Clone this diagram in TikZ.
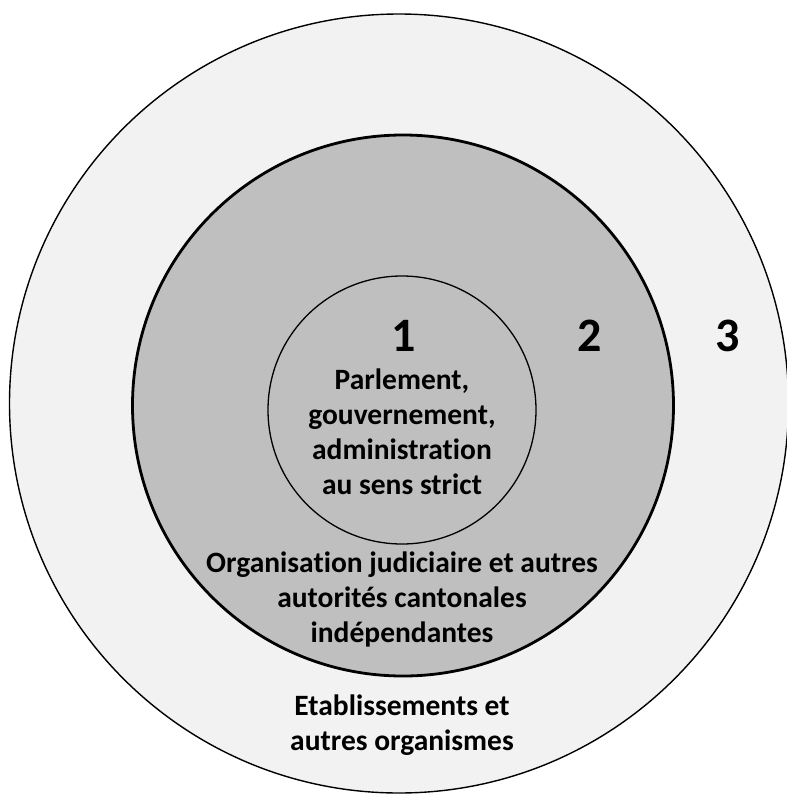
\documentclass[tikz,border=0pt]{standalone}
\usepackage{fontspec}
\setmainfont{Carlito}[Ligatures=CommonOff]
\definecolor{ringouter}{HTML}{F2F2F2}
\definecolor{ringmid}{HTML}{BFBFBF}
\begin{document}
\begin{tikzpicture}[x=1pt,y=-1pt,
  ring/.style={circle, draw=black, inner sep=0pt, outer sep=0pt},
  lbl/.style={font=\bfseries\fontsize{29.5}{35}\selectfont, align=center, inner sep=0pt, anchor=base},
  num/.style={font=\bfseries\fontsize{48}{50}\selectfont, inner sep=0pt, anchor=base}]
\useasboundingbox (0,0) rectangle (787,796);
\fill[white] (0,0) rectangle (787,796);
\node[ring, fill=ringouter, line width=1.4pt, minimum size=779pt] (c3) at (399,403.5) {};
\node[ring, fill=ringmid, line width=2.8pt, minimum size=541pt] (c2) at (403,405.5) {};
\node[ring, fill=ringmid, line width=1.3pt, minimum size=268pt] (c1) at (402,410) {};
\node[num] (n1) at (404,351) {1};
\node[num] (n2) at (590,351) {2};
\node[num] (n3) at (728,351) {3};
\node[lbl] (t1) at (402,494.5) {Parlement,\\gouvernement,\\administration\\au sens strict};
\node[lbl] (t2) at (402,642.5) {Organisation judiciaire et autres\\autorités cantonales\\indépendantes};
\node[lbl] (t3) at (402,750.5) {Etablissements et\\autres organismes};
\end{tikzpicture}
\end{document}
